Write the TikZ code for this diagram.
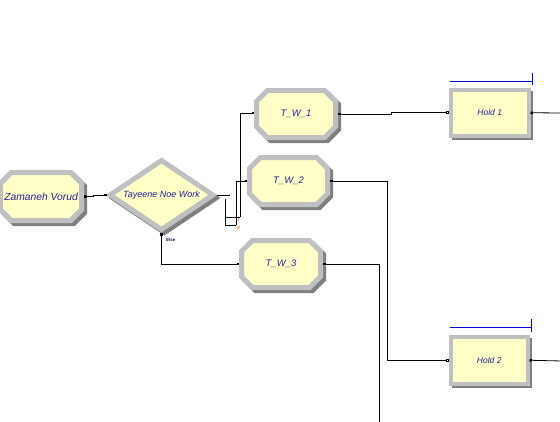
\documentclass[tikz,border=0pt]{standalone}
\usepackage{fontspec}
\usepackage{tikz}
\usetikzlibrary{arrows.meta, shapes.misc, shapes.geometric}
\newfontfamily\arenafont{Liberation Sans}
\definecolor{arenafill}{RGB}{255, 255, 200}
\definecolor{arenalight}{RGB}{192, 192, 192}
\definecolor{arenadark}{RGB}{128, 128, 128}
\definecolor{arenatext}{RGB}{40, 30, 150}
\definecolor{queueblue}{RGB}{0, 0, 230}
\definecolor{portorange}{RGB}{230, 120, 30}

\begin{document}
\begin{tikzpicture}[
  x=1pt, y=-1pt,
  module/.style={chamfered rectangle, chamfered rectangle xsep=7pt, chamfered rectangle ysep=7pt, draw=arenalight, fill=arenafill, line width=5pt, inner sep=0pt, text=arenatext, font=\arenafont\itshape\fontsize{9.5}{10}\selectfont, preaction={draw=arenadark, line width=5pt, transform canvas={shift={(3pt,-3pt)}}}},
  decide/.style={diamond, aspect=1.46, draw=arenalight, fill=arenafill, line width=5pt, inner sep=0pt, text=arenatext, font=\arenafont\itshape\fontsize{9}{10}\selectfont, preaction={draw=arenadark, line width=5pt, transform canvas={shift={(3pt,-3pt)}}}},
  holdbox/.style={rectangle, draw=arenalight, fill=arenafill, line width=4pt, inner sep=0pt, text=arenatext, font=\arenafont\itshape\fontsize{8.5}{10}\selectfont, preaction={draw=arenadark, line width=4pt, transform canvas={shift={(2.5pt,-2.5pt)}}}},
  link/.style={black, line width=0.8pt, {Square[length=2.5pt,width=2.5pt]}-{Square[length=2.5pt,width=2.5pt]}},
  plain/.style={black, line width=0.8pt},
  queue/.style={queueblue, line width=0.8pt},
  tinylbl/.style={font=\arenafont\itshape\bfseries\fontsize{4.5}{5}\selectfont, inner sep=0pt}
]
  \useasboundingbox (0,0) rectangle (560,421);

  % modules
  \node[module, minimum width=77pt, minimum height=48pt, font=\arenafont\itshape\fontsize{10.3}{11}\selectfont] (vorud) at (41,196.5) {Zamaneh Vorud};
  \node[decide, minimum width=105pt, minimum height=71pt] (noework) at (161.5,195) {Tayeene Noe Work};
  \node[module, minimum width=79pt, minimum height=47pt] (tw1) at (296,114) {T\_W\_1};
  \node[module, minimum width=78pt, minimum height=47pt] (tw2) at (288.5,181) {T\_W\_2};
  \node[module, minimum width=79pt, minimum height=47pt] (tw3) at (281,264) {T\_W\_3};
  \node[holdbox, minimum width=77.5pt, minimum height=45.5pt] (hold1) at (489.75,112.75) {Hold 1};
  \node[holdbox, minimum width=76.5pt, minimum height=46.5pt] (hold2) at (489.25,360.25) {Hold 2};

  % queues
  \draw[queue] ([shift={(1,-7)}]hold1.north west) -- ([shift={(1.5,-7)}]hold1.north east);
  \draw[queue] ([shift={(1.5,-15)}]hold1.north east) -- ([shift={(1.5,-3)}]hold1.north east);
  \draw[queue] ([shift={(1,-8)}]hold2.north west) -- ([shift={(1.5,-8)}]hold2.north east);
  \draw[queue] ([shift={(1.5,-16)}]hold2.north east) -- ([shift={(1.5,-3)}]hold2.north east);

  % decide outputs
  \coordinate (split) at (225,199);
  \coordinate (out1) at (240,217);
  \coordinate (out2) at (236,225);
  \node[tinylbl, text=portorange] (lbl1) at (238.5,219.5) {1};
  \node[tinylbl, text=portorange] (lbl2) at (238.5,227.5) {2};
  \node[tinylbl, text=arenatext!50!black, anchor=west] (elselbl) at (166,240) {Else};

  \draw[link] (vorud.east) -- ++(9,0) |- (noework.west);
  \draw[plain] (noework.east) -- ++(13,0);
  \draw[plain] (split) |- (out2);
  \draw[plain] (split |- out1) -- (out1);
  \draw[link, -{Square[length=2.5pt,width=2.5pt]}] (out1) |- ([yshift=1pt]tw1.west);
  \draw[link, -{Square[length=2.5pt,width=2.5pt]}] (out2) |- (tw2.west);
  \draw[link] (noework.south) |- (tw3.west);

  % process outputs
  \draw[link, {Square[length=2.5pt,width=2.5pt]}-{Square[open,length=3pt,width=3pt]}] (tw1.east) -- ++(53,0) |- (hold1.west);
  \draw[link, {Square[length=2.5pt,width=2.5pt]}-{Square[open,length=3pt,width=3pt]}] (tw2.east) -- ++(57,0) |- (hold2.west);
  \coordinate (hold1out) at (562,113);
  \coordinate (hold2out) at (562,361);
  \coordinate (tw3out) at (379,424);
  \draw[link, {Square[length=2.5pt,width=2.5pt]}-] (hold1.east) -- (hold1out);
  \draw[link, {Square[length=2.5pt,width=2.5pt]}-] (hold2.east) -- (hold2out);
  \draw[link, {Square[length=2.5pt,width=2.5pt]}-] (tw3.east) -| (tw3out);
\end{tikzpicture}
\end{document}
